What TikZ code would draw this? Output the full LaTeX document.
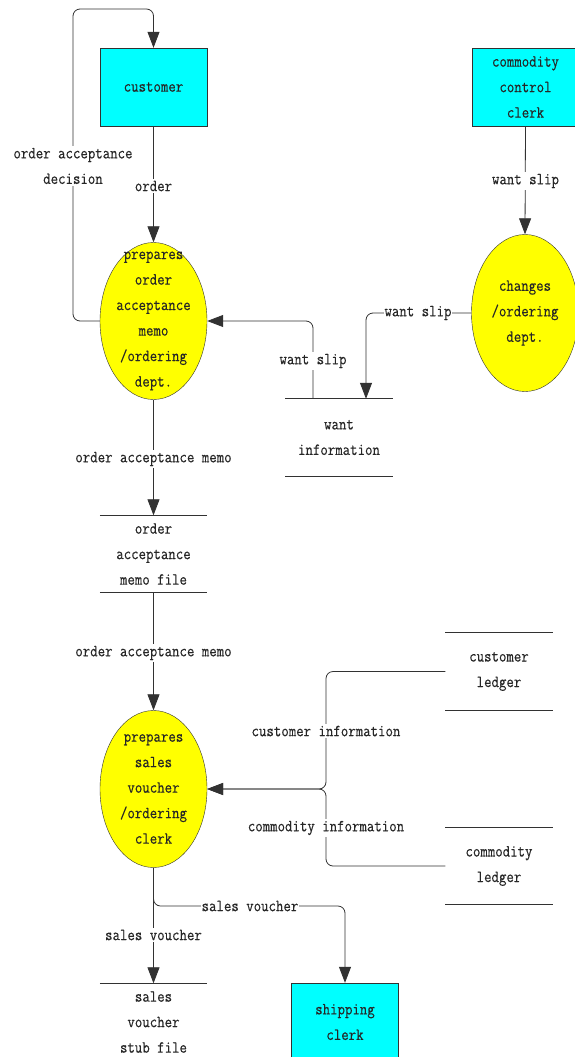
\documentclass[tikz,border=0pt]{standalone}
\usepackage{fontspec}
\newfontfamily\dfdfont[FakeStretch=0.85,FakeBold=0.25]{Latin Modern Mono}
\usetikzlibrary{arrows.meta,shapes.geometric}
\definecolor{dfdcyan}{RGB}{0,255,255}
\definecolor{dfdyellow}{RGB}{255,255,0}
\definecolor{dfdline}{RGB}{50,50,50}
\begin{document}
\begin{tikzpicture}[x=1pt,y=-1pt]
  \tikzstyle{every node}=[font={\dfdfont\fontsize{17}{25.5}\selectfont},align=center,text=black!85]
  \tikzstyle{entity}=[draw=dfdline,fill=dfdcyan,minimum width=107pt,minimum height=78pt,inner sep=0pt]
  \tikzstyle{process}=[draw=dfdline,fill=dfdyellow,ellipse,minimum width=107pt,minimum height=157pt,inner sep=0pt]
  \tikzstyle{store}=[minimum width=107pt,minimum height=77pt,inner sep=0pt]
  \tikzstyle{flow}=[draw=dfdline,line width=0.8pt,rounded corners=7pt]
  \tikzstyle{arrow}=[flow,-{Triangle[width=12pt,length=16pt]}]
  \tikzstyle{flowlabel}=[fill=white,inner xsep=1pt,inner ysep=2pt]

  \fill[white] (0,0) rectangle (574,1057);
  \useasboundingbox (0,0) rectangle (574,1057);

  % external entities
  \node[entity] (customer) at (153.5,87) {customer};
  \node[entity] (ccclerk) at (525.5,87) {commodity\\control\\clerk};
  \node[entity] (shipclerk) at (345,1022) {shipping\\clerk};

  % processes
  \node[process] (p1) at (153.5,321) {};
  \node at (p1) {prepares\\order\\acceptance\\memo\\/ordering\\dept.};
  \node[process] (p2) at (525,313) {};
  \node at (p2) {changes\\/ordering\\dept.};
  \node[process] (p3) at (153.5,789) {};
  \node at (p3) {prepares\\sales\\voucher\\/ordering\\clerk};

  % data stores
  \node[store] (s1) at (339,437.5) {want\\information};
  \node[store] (s2) at (153.5,554) {order\\acceptance\\memo file};
  \node[store] (s3) at (499,671.5) {customer\\ledger};
  \node[store] (s4) at (499,866) {commodity\\ledger};
  \node[store] (s5) at (153.5,1022) {sales\\voucher\\stub file};
  \foreach \s in {s1,s2,s3,s4,s5}
    \draw[dfdline,line width=0.8pt] (\s.north west) -- (\s.north east)
      (\s.south west) -- (\s.south east);

  \coordinate (loop) at (73,9);
  \coordinate (merge) at (326,789);
  \coordinate (svturn) at (345,906);

  % data flows
  \draw[arrow] (customer.south) -- (p1.north);
  \draw[arrow] (p1.west) -| (loop) -| (customer.north);
  \draw[arrow] (ccclerk.south) -- (p2.north);
  \draw[arrow] (p2.west) -| ([xshift=27pt]s1.north);
  \draw[arrow] ([xshift=-26pt]s1.north) |- (p1.east);
  \draw[arrow] (p1.south) -- (s2.north);
  \draw[arrow] (s2.south) -- (p3.north);
  \draw[arrow] (s3.west) -| (merge) -- (p3.east);
  \draw[arrow] (s4.west) -| (merge) -- (p3.east);
  \draw[arrow] (p3.south) -- (s5.north);
  \draw[arrow] (p3.south) |- (svturn) -- (shipclerk.north);

  % flow labels
  \node[flowlabel] (l1) at (153.5,186) {order};
  \node[flowlabel] (l2) at (73,166) {order acceptance\\decision};
  \node[flowlabel] (l3) at (525.5,181) {want slip};
  \node[flowlabel] (l4) at (418,313) {want slip};
  \node[flowlabel] (l5) at (313,361) {want slip};
  \node[flowlabel] (l6) at (153.5,459) {order acceptance memo};
  \node[flowlabel] (l7) at (153.5,653) {order acceptance memo};
  \node[flowlabel] (l8) at (326,731) {customer information};
  \node[flowlabel] (l9) at (326,828) {commodity information};
  \node[flowlabel] (l10) at (153.5,935) {sales voucher};
  \node[flowlabel] (l11) at (250,906) {sales voucher};
\end{tikzpicture}
\end{document}
